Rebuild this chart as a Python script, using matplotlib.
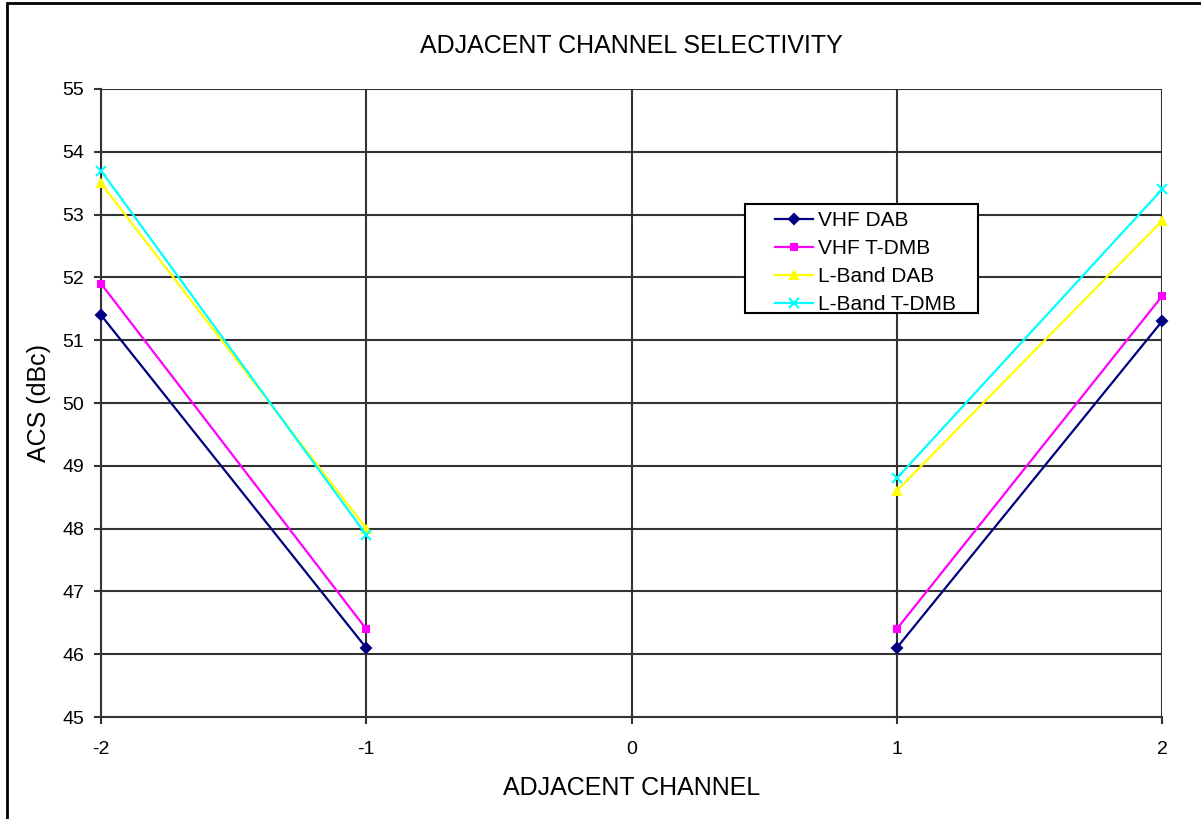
import matplotlib.pyplot as plt
import numpy as np
from matplotlib.patches import Rectangle

plt.rcParams['font.family'] = ['Liberation Sans', 'DejaVu Sans']
plt.rcParams['axes.unicode_minus'] = False

channels = [-2, -1, 0, 1, 2]
vhf_dab = [51.4, 46.1, np.nan, 46.1, 51.3]
vhf_tdmb = [51.9, 46.4, np.nan, 46.4, 51.7]
lband_dab = [53.5, 48.0, np.nan, 48.6, 52.9]
lband_tdmb = [53.7, 47.9, np.nan, 48.8, 53.4]

series = [
    ('VHF DAB', vhf_dab, '#000080', 'D', 5),
    ('VHF T-DMB', vhf_tdmb, '#FF00FF', 's', 5),
    ('L-Band DAB', lband_dab, '#FFFF00', '^', 6),
    ('L-Band T-DMB', lband_tdmb, '#00FFFF', 'x', 7),
]

W, H = 1201, 819
fig = plt.figure(figsize=(W / 100, H / 100), dpi=100)
ax = fig.add_axes([101 / W, 1 - 717 / H, (1162 - 101) / W, (717 - 89) / H])

# frame around the chart (only left and top visible in the crop)
fig.patches.append(Rectangle((7 / W, -0.1), 1.2, 1.1 - 3 / H, transform=fig.transFigure,
                             fill=False, edgecolor='black', linewidth=2))

for name, vals, color, marker, ms in series:
    ax.plot(channels, vals, color=color, marker=marker, markersize=ms, linewidth=1.6,
            markeredgewidth=1.5, label=name, zorder=3, clip_on=False)

ax.set_xlim(-2, 2)
ax.set_ylim(45, 55)
ax.set_xticks(channels)
ax.set_yticks(np.arange(45, 56, 1))
ax.grid(True, color='#333333', linewidth=1.5)
ax.set_axisbelow(True)
for side in ['top', 'right']:
    ax.spines[side].set_visible(False)
for side in ['left', 'bottom']:
    ax.spines[side].set_color('#333333')
    ax.spines[side].set_linewidth(1.5)
ax.tick_params(axis='both', labelsize=14, length=5, width=1.5, color='#333333')
ax.tick_params(axis='y', pad=7)
ax.tick_params(axis='x', pad=12)

ax.set_title('ADJACENT CHANNEL SELECTIVITY', fontsize=18, pad=26)
ax.set_xlabel('ADJACENT CHANNEL', fontsize=18, labelpad=13)
ax.set_ylabel('ACS (dBc)', fontsize=18, labelpad=8)

# legend box drawn separately so the padding matches the original
ax.add_patch(Rectangle((745 / W, 1 - 313 / H), (978 - 745) / W, (313 - 204) / H,
                       transform=fig.transFigure, facecolor='white', edgecolor='black',
                       linewidth=1.5, zorder=4))
leg = ax.legend(loc='upper left', bbox_to_anchor=(775 / W, 1 - 211 / H),
                bbox_transform=fig.transFigure, fontsize=15, frameon=False,
                borderpad=0, labelspacing=0.43, handlelength=1.8,
                handletextpad=0.25, borderaxespad=0)
leg.set_zorder(5)

fig.savefig('out.png', dpi=100)
